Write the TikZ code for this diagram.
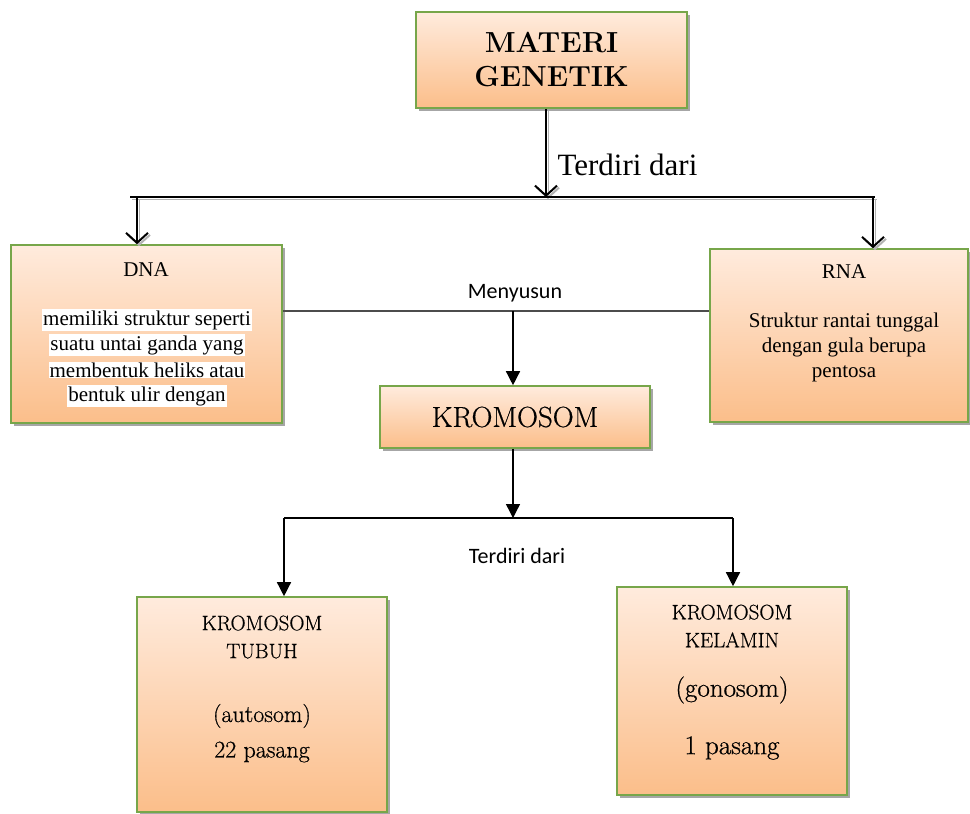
\documentclass[tikz,border=0pt]{standalone}
\usepackage{fontspec}
\newfontfamily\timesf{Liberation Serif}
\newfontfamily\calibf{Carlito}
\newfontfamily\schf{Latin Modern Roman}[FakeBold=0.6]
\usetikzlibrary{arrows.meta,shadows}
\definecolor{boxtop}{HTML}{FFEBDD}
\definecolor{boxbot}{HTML}{FBBE8A}
\definecolor{boxline}{HTML}{77A64A}
\tikzset{
  box/.style={draw=boxline, line width=1.6pt, top color=boxtop, bottom color=boxbot,
    drop shadow={shadow xshift=3pt, shadow yshift=-3pt, fill=gray!70, opacity=1}},
  hl/.style={fill=white, inner sep=1pt, font=\timesf\fontsize{21}{25}\selectfont},
  openarrow/.style={line width=2.2pt, -{Straight Barb[length=10pt,width=22pt,line width=2pt]},
    preaction={draw=gray!60, transform canvas={shift={(2pt,-2pt)}}}},
  fillarrow/.style={line width=1.4pt, -{Triangle[length=14pt,width=14pt]}},
}
\begin{document}
\begin{tikzpicture}[x=1pt,y=-1pt]
    \useasboundingbox[fill=white] (0,0) rectangle (970,814);

    \coordinate (split) at (546, 197);
    \coordinate (barL) at (130, 197);
    \coordinate (barR) at (875, 197);
    \coordinate (dnaIn) at (137, 197);
    \coordinate (rnaIn) at (873, 197);
    \coordinate (meet) at (513, 311);
    \coordinate (fork) at (513, 518);
    \coordinate (forkL) at (284, 518);
    \coordinate (forkR) at (733, 518);

    % boxes
    \node[box, minimum width=271pt, minimum height=96pt, align=center,
      font=\bfseries\fontsize{29}{34}\selectfont] (materi) at (551.5, 60) {MATERI\\GENETIK};
    \node[box, minimum width=271pt, minimum height=178pt] (dna) at (146.5, 334) {};
    \node[box, minimum width=258pt, minimum height=173pt] (rna) at (839, 335.5) {};
    \node[box, minimum width=270pt, minimum height=62pt,
      font=\schf\fontsize{29}{34}\selectfont] (krom) at (515, 417) {KROMOSOM};
    \node[box, minimum width=250pt, minimum height=215pt] (tubuh) at (262, 704.5) {};
    \node[box, minimum width=230pt, minimum height=208pt] (kelamin) at (732, 691) {};

    % DNA
    \node[font=\timesf\fontsize{21}{25}\selectfont] (dnaT) at (146, 270) {DNA};
    \node[hl] (dna1) at (147, 320) {memiliki struktur seperti};
    \node[hl] (dna2) at (147, 345) {suatu untai ganda yang};
    \node[hl] (dna3) at (147, 370) {membentuk heliks atau};
    \node[hl] (dna4) at (147, 396) {bentuk ulir dengan};

    % RNA
    \node[font=\timesf\fontsize{21}{25}\selectfont] (rnaT) at (844, 272) {RNA};
    \node[font=\timesf\fontsize{21}{25}\selectfont, align=center] (rnaD) at (844, 347)
      {Struktur rantai tunggal\\dengan gula berupa\\pentosa};

    % bottom boxes
    \node[font=\schf\fontsize{21}{28}\selectfont, align=center] (tubuhT) at (262, 637) {KROMOSOM\\TUBUH};
    \node[font=\schf\fontsize{24}{28}\selectfont] (auto) at (262, 716) {(autosom)};
    \node[font=\schf\fontsize{24}{28}\selectfont] (pas22) at (262, 752) {22 pasang};
    \node[font=\schf\fontsize{21}{28}\selectfont, align=center] (kelT) at (732, 626) {KROMOSOM\\KELAMIN};
    \node[font=\schf\fontsize{27}{30}\selectfont] (gono) at (732, 690) {(gonosom)};
    \node[font=\schf\fontsize{27}{30}\selectfont] (pas1) at (732, 748) {1 pasang};

    % labels
    \node[font=\timesf\fontsize{31}{34}\selectfont, anchor=west] (ter1) at (554, 165) {Terdiri dari};
    \node[font=\calibf\fontsize{22}{26}\selectfont] (meny) at (515, 293) {Menyusun};
    \node[font=\calibf\fontsize{22}{26}\selectfont] (ter2) at (517, 556) {Terdiri dari};

    % top connectors
    \draw[openarrow] (materi.south -| split) -- (split);
    \draw[line width=2.2pt, preaction={draw=gray!60, transform canvas={shift={(2pt,-2pt)}}}] (barL) -- (barR);
    \draw[openarrow] (dnaIn) -- (dnaIn |- dna.north);
    \draw[openarrow] (rnaIn) -- (rnaIn |- rna.north);

    % middle and bottom connectors
    \draw[line width=1.4pt, black!70] (dna.east |- meet) -- (rna.west |- meet);
    \draw[fillarrow] (meet) -- (meet |- krom.north);
    \draw[fillarrow] (krom.south -| fork) -- (fork);
    \draw[line width=1.4pt] (forkL) -- (forkR);
    \draw[fillarrow] (forkL) -- (forkL |- tubuh.north);
    \draw[fillarrow] (forkR) -- (forkR |- kelamin.north);

\end{tikzpicture}
\end{document}
